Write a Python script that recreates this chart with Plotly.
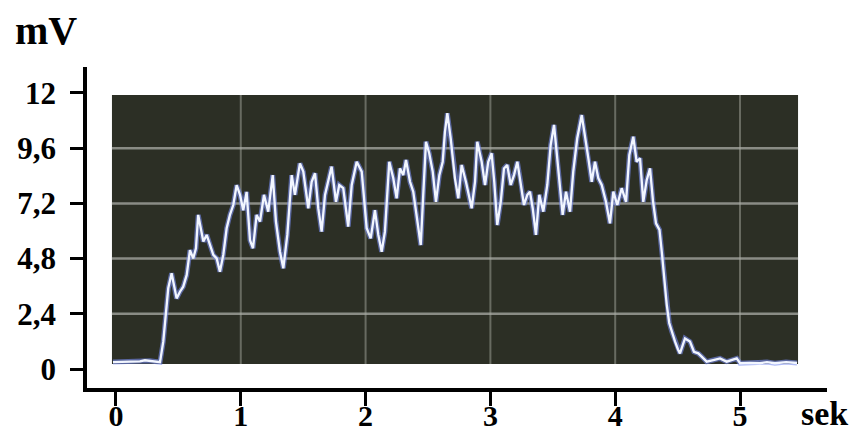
import plotly.graph_objects as go

# ---- data ----
time_s = [-0.024, 0.072, 0.152, 0.192, 0.232, 0.272, 0.313, 0.353, 0.379, 0.401,
          0.419, 0.446, 0.473, 0.486, 0.513, 0.539, 0.567, 0.593, 0.619, 0.641,
          0.659, 0.679, 0.700, 0.727, 0.753, 0.780, 0.807, 0.833, 0.860, 0.887,
          0.913, 0.940, 0.967, 0.994, 1.020, 1.047, 1.074, 1.098, 1.127, 1.154,
          1.186, 1.220, 1.256, 1.282, 1.314, 1.341, 1.373, 1.408, 1.434, 1.474,
          1.501, 1.541, 1.568, 1.595, 1.621, 1.648, 1.675, 1.701, 1.728, 1.763,
          1.789, 1.821, 1.861, 1.889, 1.929, 1.969, 2.009, 2.041, 2.075, 2.102,
          2.129, 2.155, 2.190, 2.222, 2.249, 2.276, 2.302, 2.324, 2.356, 2.382,
          2.409, 2.442, 2.462, 2.484, 2.510, 2.538, 2.564, 2.591, 2.618, 2.636,
          2.655, 2.682, 2.716, 2.743, 2.770, 2.804, 2.850, 2.877, 2.895, 2.930,
          2.957, 2.983, 3.010, 3.031, 3.055, 3.083, 3.109, 3.135, 3.163, 3.189,
          3.216, 3.243, 3.269, 3.296, 3.317, 3.339, 3.365, 3.392, 3.424, 3.456,
          3.483, 3.510, 3.536, 3.558, 3.579, 3.606, 3.638, 3.664, 3.696, 3.732,
          3.758, 3.785, 3.812, 3.838, 3.865, 3.892, 3.926, 3.958, 3.985, 4.017,
          4.052, 4.087, 4.113, 4.145, 4.172, 4.199, 4.225, 4.252, 4.279, 4.303,
          4.327, 4.355, 4.375, 4.395, 4.413, 4.433, 4.455, 4.479, 4.503, 4.519,
          4.559, 4.599, 4.631, 4.666, 4.693, 4.733, 4.786, 4.840, 4.893, 4.934,
          4.974, 5.000, 5.080, 5.160, 5.216, 5.280, 5.369, 5.457]
signal_mv = [0.30, 0.32, 0.34, 0.33, 0.38, 0.36, 0.33, 0.30, 1.19, 2.64,
             3.51, 4.16, 3.51, 3.07, 3.36, 3.58, 4.09, 5.17, 4.81, 5.25,
             6.70, 6.12, 5.54, 5.83, 5.39, 4.96, 4.81, 4.23, 4.96, 6.12,
             6.70, 7.13, 7.99, 7.57, 6.90, 7.70, 5.60, 5.25, 6.70, 6.41,
             7.57, 6.84, 8.43, 6.41, 5.10, 4.38, 5.83, 8.43, 7.57, 8.94,
             8.58, 6.99, 8.14, 8.51, 6.99, 5.97, 7.57, 8.14, 8.80, 7.27,
             8.00, 7.86, 6.19, 8.00, 9.01, 8.58, 6.12, 5.68, 6.91, 5.83,
             5.10, 5.97, 9.01, 8.29, 7.42, 8.72, 8.43, 9.09, 8.14, 7.71,
             6.55, 5.39, 7.57, 9.88, 9.38, 8.58, 7.27, 8.43, 9.01, 10.32,
             11.12, 10.03, 8.29, 7.42, 8.87, 8.14, 6.99, 8.14, 9.88, 9.01,
             8.00, 9.01, 9.38, 8.14, 6.26, 7.27, 8.72, 8.87, 8.00, 8.43,
             9.01, 8.14, 7.13, 7.57, 7.71, 6.99, 5.83, 7.57, 6.84, 8.00,
             9.74, 10.61, 9.01, 8.00, 6.70, 7.71, 6.84, 8.58, 10.03, 11.04,
             10.17, 9.16, 8.14, 9.01, 8.29, 8.00, 7.27, 6.33, 7.71, 7.13,
             7.86, 7.27, 9.30, 10.10, 9.01, 9.16, 7.27, 8.20, 8.72, 7.30,
             6.33, 6.05, 5.00, 3.80, 2.80, 2.00, 1.60, 1.20, 0.85, 0.68,
             1.33, 1.19, 0.75, 0.68, 0.54, 0.32, 0.39, 0.46, 0.32, 0.39,
             0.46, 0.25, 0.27, 0.25, 0.30, 0.25, 0.30, 0.26]

x_ticks = [0, 1, 2, 3, 4, 5]
x_tick_labels = ["0", "1", "2", "3", "4", "5"]
y_ticks = [0, 2.4, 4.8, 7.2, 9.6, 12]
y_tick_labels = ["0", "2,4", "4,8", "7,2", "9,6", "12"]

# ---- style / layout constants ----
W, H = 863, 434
SCREEN_X = (-0.032, 5.465)   # dark screen extent (data units)
SCREEN_Y = (0.22, 11.91)
X_RANGE = [-0.232, 5.697]
Y_RANGE = [-0.826, 13.13]
SCREEN_COLOR = "#2c2f25"
GRID_COLOR = "rgba(170,172,165,0.75)"
FONT = "Liberation Serif, Times New Roman, serif"

fig = go.Figure()

# glow + core line
fig.add_trace(go.Scatter(x=time_s, y=signal_mv, mode="lines",
                         line=dict(color="rgba(120,140,240,0.6)", width=5),
                         hoverinfo="skip", showlegend=False))
fig.add_trace(go.Scatter(x=time_s, y=signal_mv, mode="lines",
                         line=dict(color="#f2f6ff", width=2.3),
                         showlegend=False))

shapes = [dict(type="rect", xref="x", yref="y", layer="below",
               x0=SCREEN_X[0], x1=SCREEN_X[1], y0=SCREEN_Y[0], y1=SCREEN_Y[1],
               fillcolor=SCREEN_COLOR, line=dict(width=0))]
for xv in x_ticks[1:]:
    shapes.append(dict(type="line", xref="x", yref="y", layer="below",
                       x0=xv, x1=xv, y0=SCREEN_Y[0], y1=SCREEN_Y[1],
                       line=dict(color="rgba(120,122,112,0.8)", width=2)))
for yv in y_ticks[1:-1]:
    shapes.append(dict(type="line", xref="x", yref="y", layer="below",
                       x0=SCREEN_X[0], x1=SCREEN_X[1], y0=yv, y1=yv,
                       line=dict(color=GRID_COLOR, width=2.5)))

fig.update_layout(
    width=W, height=H,
    margin=dict(l=87, r=36, t=67, b=46, autoexpand=False),
    paper_bgcolor="white", plot_bgcolor="white",
    shapes=shapes,
    font=dict(family=FONT, color="black"),
    annotations=[
        dict(text="<b>mV</b>", xref="paper", yref="paper", x=-0.1, y=1.115,
             xanchor="left", yanchor="middle", showarrow=False,
             font=dict(size=40, family=FONT, color="black")),
        dict(text="<b>sek</b>", xref="paper", yref="paper", x=0.997, y=-0.08,
             xanchor="center", yanchor="middle", showarrow=False,
             font=dict(size=34, family=FONT, color="black")),
    ],
)
fig.update_xaxes(range=X_RANGE, showgrid=False, zeroline=False,
                 showline=True, linecolor="black", linewidth=3.5,
                 ticks="outside", ticklen=14, tickwidth=3, tickcolor="black",
                 tickvals=x_ticks, ticktext=["<b>%s</b>" % t for t in x_tick_labels],
                 tickfont=dict(size=30, family=FONT, color="black"),
                 ticklabelstandoff=-16, automargin=False)
fig.update_yaxes(range=Y_RANGE, showgrid=False, zeroline=False,
                 showline=True, linecolor="black", linewidth=3.5,
                 ticks="outside", ticklen=13, tickwidth=3, tickcolor="black",
                 tickvals=y_ticks, ticktext=["<b>%s</b>" % t for t in y_tick_labels],
                 tickfont=dict(size=31, family=FONT, color="black"),
                 ticklabelstandoff=8, automargin=False)

fig.write_html("out.html")
